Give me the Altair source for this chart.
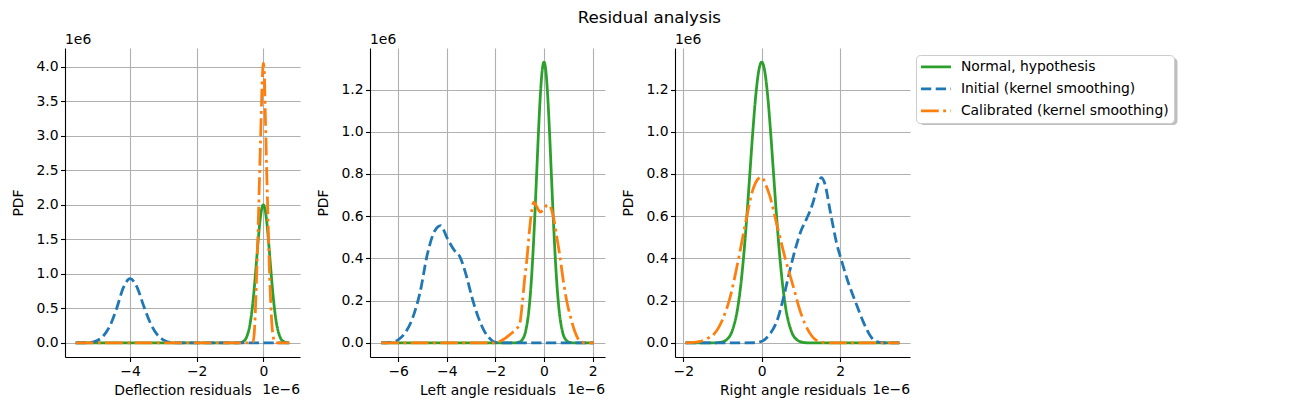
import altair as alt
import pandas as pd

SERIES = ["Normal, hypothesis", "Initial (kernel smoothing)", "Calibrated (kernel smoothing)"]
COLORS = ["#2ca02c", "#1f77b4", "#ff7f0e"]
DASHES = [[1, 0], [10.3, 4.45], [17.8, 4.45, 2.8, 4.45]]

# ---------------- Panel 1: Deflection residuals (x in 1e-6, y in 1e6)
p1_normal_x = [-5.63, -0.9, -0.7, -0.6, -0.5, -0.4, -0.35, -0.3, -0.25, -0.2, -0.15, -0.1, -0.05, 0.0,
               0.05, 0.1, 0.15, 0.2, 0.25, 0.3, 0.35, 0.4, 0.5, 0.6, 0.7, 0.78]
p1_normal_y = [0, 0, 0.004, 0.022, 0.088, 0.271, 0.433, 0.649, 0.916, 1.213, 1.51, 1.765, 1.938, 2.0,
               1.938, 1.765, 1.51, 1.213, 0.916, 0.649, 0.433, 0.271, 0.088, 0.022, 0.004, 0.001]
p1_initial_x = [-5.63, -5.2, -5.0, -4.8, -4.6, -4.4, -4.2, -4.0, -3.8, -3.6, -3.4, -3.2, -3.0, -2.8, -2.6, -2.0, 0.78]
p1_initial_y = [0, 0.005, 0.03, 0.10, 0.25, 0.50, 0.80, 0.93, 0.82, 0.55, 0.30, 0.13, 0.045, 0.01, 0.002, 0, 0]
p1_calib_x = [-5.63, -0.40, -0.32, -0.28, -0.24, -0.20, -0.16, -0.12, -0.08, -0.04, 0.0, 0.02, 0.06,
              0.10, 0.14, 0.18, 0.22, 0.26, 0.30, 0.34, 0.40, 0.78]
p1_calib_y = [0, 0, 0.01, 0.1, 0.45, 1.0, 1.6, 2.3, 3.0, 3.7, 4.05, 4.0, 3.3,
              2.5, 1.8, 1.1, 0.6, 0.25, 0.08, 0.01, 0, 0]

# ---------------- Panel 2: Left angle residuals
p2_normal_x = [-6.7, -1.5, -1.2, -1.05, -0.9, -0.75, -0.6, -0.525, -0.45, -0.375, -0.3, -0.225, -0.15, -0.075, 0.0,
               0.075, 0.15, 0.225, 0.3, 0.375, 0.45, 0.525, 0.6, 0.75, 0.9, 1.05, 1.2, 1.5, 2.05]
p2_normal_y = [0, 0, 0.0004, 0.0029, 0.0148, 0.0584, 0.180, 0.288, 0.432, 0.609, 0.807, 1.004, 1.174, 1.289, 1.33,
               1.289, 1.174, 1.004, 0.807, 0.609, 0.432, 0.288, 0.180, 0.0584, 0.0148, 0.0029, 0.0004, 0, 0]
p2_initial_x = [-6.7, -6.3, -6.0, -5.7, -5.4, -5.1, -4.8, -4.5, -4.25, -4.0, -3.7, -3.45, -3.2, -2.95,
                -2.7, -2.45, -2.2, -2.0, -1.8, 2.05]
p2_initial_y = [0, 0.003, 0.015, 0.05, 0.12, 0.24, 0.42, 0.53, 0.556, 0.50, 0.44, 0.405, 0.32, 0.21,
                0.12, 0.055, 0.018, 0.003, 0, 0]
p2_calib_x = [-6.7, -2.0, -1.85, -1.6, -1.35, -1.15, -1.0, -0.9, -0.8, -0.7, -0.6, -0.5, -0.42, -0.3, -0.15,
              0.0, 0.15, 0.28, 0.4, 0.5, 0.65, 0.8, 0.95, 1.1, 1.25, 1.4, 1.55, 1.7, 2.05]
p2_calib_y = [0, 0, 0.006, 0.022, 0.045, 0.065, 0.09, 0.18, 0.30, 0.40, 0.53, 0.63, 0.667, 0.645, 0.62,
              0.635, 0.655, 0.64, 0.59, 0.52, 0.414, 0.29, 0.19, 0.12, 0.06, 0.02, 0.005, 0, 0]

# ---------------- Panel 3: Right angle residuals
p3_normal_x = [-1.94, -1.5, -1.2, -1.05, -0.9, -0.75, -0.6, -0.525, -0.45, -0.375, -0.3, -0.225, -0.15, -0.075, 0.0,
               0.075, 0.15, 0.225, 0.3, 0.375, 0.45, 0.525, 0.6, 0.75, 0.9, 1.05, 1.2, 1.5, 3.51]
p3_normal_y = [0, 0, 0.0004, 0.0029, 0.0148, 0.0584, 0.180, 0.288, 0.432, 0.609, 0.807, 1.004, 1.174, 1.289, 1.33,
               1.289, 1.174, 1.004, 0.807, 0.609, 0.432, 0.288, 0.180, 0.0584, 0.0148, 0.0029, 0.0004, 0, 0]
p3_initial_x = [-1.94, -0.2, 0.0, 0.2, 0.4, 0.55, 0.7, 0.85, 1.0, 1.15, 1.3, 1.45, 1.52, 1.6, 1.75, 1.9,
                2.05, 2.2, 2.4, 2.6, 2.8, 2.95, 3.1, 3.51]
p3_initial_y = [0, 0.001, 0.008, 0.04, 0.11, 0.21, 0.33, 0.44, 0.53, 0.59, 0.66, 0.76, 0.783, 0.76, 0.62, 0.48,
                0.38, 0.29, 0.19, 0.095, 0.025, 0.006, 0.001, 0]
p3_calib_x = [-1.94, -1.6, -1.4, -1.2, -1.0, -0.8, -0.6, -0.4, -0.25, -0.1, 0.0, 0.1, 0.2, 0.4, 0.6, 0.8,
              1.0, 1.2, 1.4, 1.6, 1.8, 3.51]
p3_calib_y = [0, 0.006, 0.02, 0.045, 0.11, 0.22, 0.39, 0.58, 0.71, 0.775, 0.785, 0.75, 0.70, 0.55, 0.40, 0.27,
              0.14, 0.055, 0.012, 0.002, 0, 0]

PANELS = [
    dict(title="Deflection residuals", xdom=[-5.95, 1.10], ydom=[-0.2035, 4.27],
         xticks=[-4, -2, 0], yticks=[0, 0.5, 1.0, 1.5, 2.0, 2.5, 3.0, 3.5, 4.0],
         curves=[(p1_normal_x, p1_normal_y), (p1_initial_x, p1_initial_y), (p1_calib_x, p1_calib_y)]),
    dict(title="Left angle residuals", xdom=[-7.16, 2.51], ydom=[-0.0665, 1.3965],
         xticks=[-6, -4, -2, 0, 2], yticks=[0, 0.2, 0.4, 0.6, 0.8, 1.0, 1.2],
         curves=[(p2_normal_x, p2_normal_y), (p2_initial_x, p2_initial_y), (p2_calib_x, p2_calib_y)]),
    dict(title="Right angle residuals", xdom=[-2.21, 3.78], ydom=[-0.0665, 1.3965],
         xticks=[-2, 0, 2], yticks=[0, 0.2, 0.4, 0.6, 0.8, 1.0, 1.2],
         curves=[(p3_normal_x, p3_normal_y), (p3_initial_x, p3_initial_y), (p3_calib_x, p3_calib_y)]),
]

W, H = 235, 309
FONT = "DejaVu Sans"
FS = 13.9
LW = 2.78

color_scale = alt.Scale(domain=SERIES, range=COLORS)
dash_scale = alt.Scale(domain=SERIES, range=DASHES)
legend = alt.Legend(title=None, orient="none", legendX=851, legendY=7, fillColor="white",
                    strokeColor="#cccccc", cornerRadius=4, padding=5, labelFontSize=FS, labelFont=FONT,
                    labelColor="black", symbolType="M-3,0H3", symbolSize=100, symbolOffset=8,
                    symbolStrokeWidth=LW, rowPadding=7, labelOffset=18, labelLimit=0)


def panel(i, p):
    layers = []
    for s, (xs, ys) in zip(SERIES, p["curves"]):
        df = pd.DataFrame({"x": xs, "y": ys, "series": s})
        layers.append(
            alt.Chart(df).mark_line(strokeWidth=LW, interpolate="monotone").encode(
                x=alt.X("x:Q", scale=alt.Scale(domain=p["xdom"], nice=False, zero=False),
                        axis=alt.Axis(values=p["xticks"], format="d", title=p["title"])),
                y=alt.Y("y:Q", scale=alt.Scale(domain=p["ydom"], nice=False, zero=False),
                        axis=alt.Axis(values=p["yticks"], format=".1f", title="PDF")),
                color=alt.Color("series:N", scale=color_scale, legend=legend),
                strokeDash=alt.StrokeDash("series:N", scale=dash_scale, legend=legend),
            )
        )
    top = alt.Chart(pd.DataFrame({"t": ["1e6"]})).mark_text(
        align="left", baseline="middle", fontSize=FS, font=FONT, color="black"
    ).encode(text="t:N", x=alt.value(0), y=alt.value(-8))
    bot = alt.Chart(pd.DataFrame({"t": ["1e\u22126"]})).mark_text(
        align="right", baseline="middle", fontSize=FS, font=FONT, color="black"
    ).encode(text="t:N", x=alt.value(W), y=alt.value(H + 33))
    layers += [top, bot]
    if i == 1:
        title = alt.Chart(pd.DataFrame({"t": ["Residual analysis"]})).mark_text(
            align="center", baseline="top", fontSize=16.7, font=FONT, color="black"
        ).encode(text="t:N", x=alt.value(279.3), y=alt.value(-38))
        layers.append(title)
    if i == 2:
        shadow = alt.Chart(pd.DataFrame({"a": [0]})).mark_rect(
            color="#808080", opacity=0.5, cornerRadius=4
        ).encode(x=alt.value(244.5), x2=alt.value(502.5), y=alt.value(10), y2=alt.value(77))
        layers.insert(0, shadow)
    return alt.layer(*layers).properties(width=W, height=H)


chart = alt.hconcat(*[panel(i, p) for i, p in enumerate(PANELS)], spacing=70, bounds="flush").properties(
    padding={"left": 3, "top": 2, "right": 5, "bottom": 5}
).configure(font=FONT).configure_view(stroke=None).configure_axis(
    domainColor="black", domainWidth=1.1, tickColor="black", tickWidth=1.1, tickSize=4.5,
    labelFontSize=FS, labelFont=FONT, labelColor="black", labelPadding=2.5, labelFlush=False,
    labelOverlap=False, titleFontSize=FS, titleFont=FONT, titleFontWeight="normal", titleColor="black",
    gridColor="#b0b0b0", gridWidth=1.1, grid=True
).configure_axisX(titlePadding=5.5).configure_axisY(titlePadding=10)

chart.save("out.html", embed_options={"renderer": "svg", "actions": False})
